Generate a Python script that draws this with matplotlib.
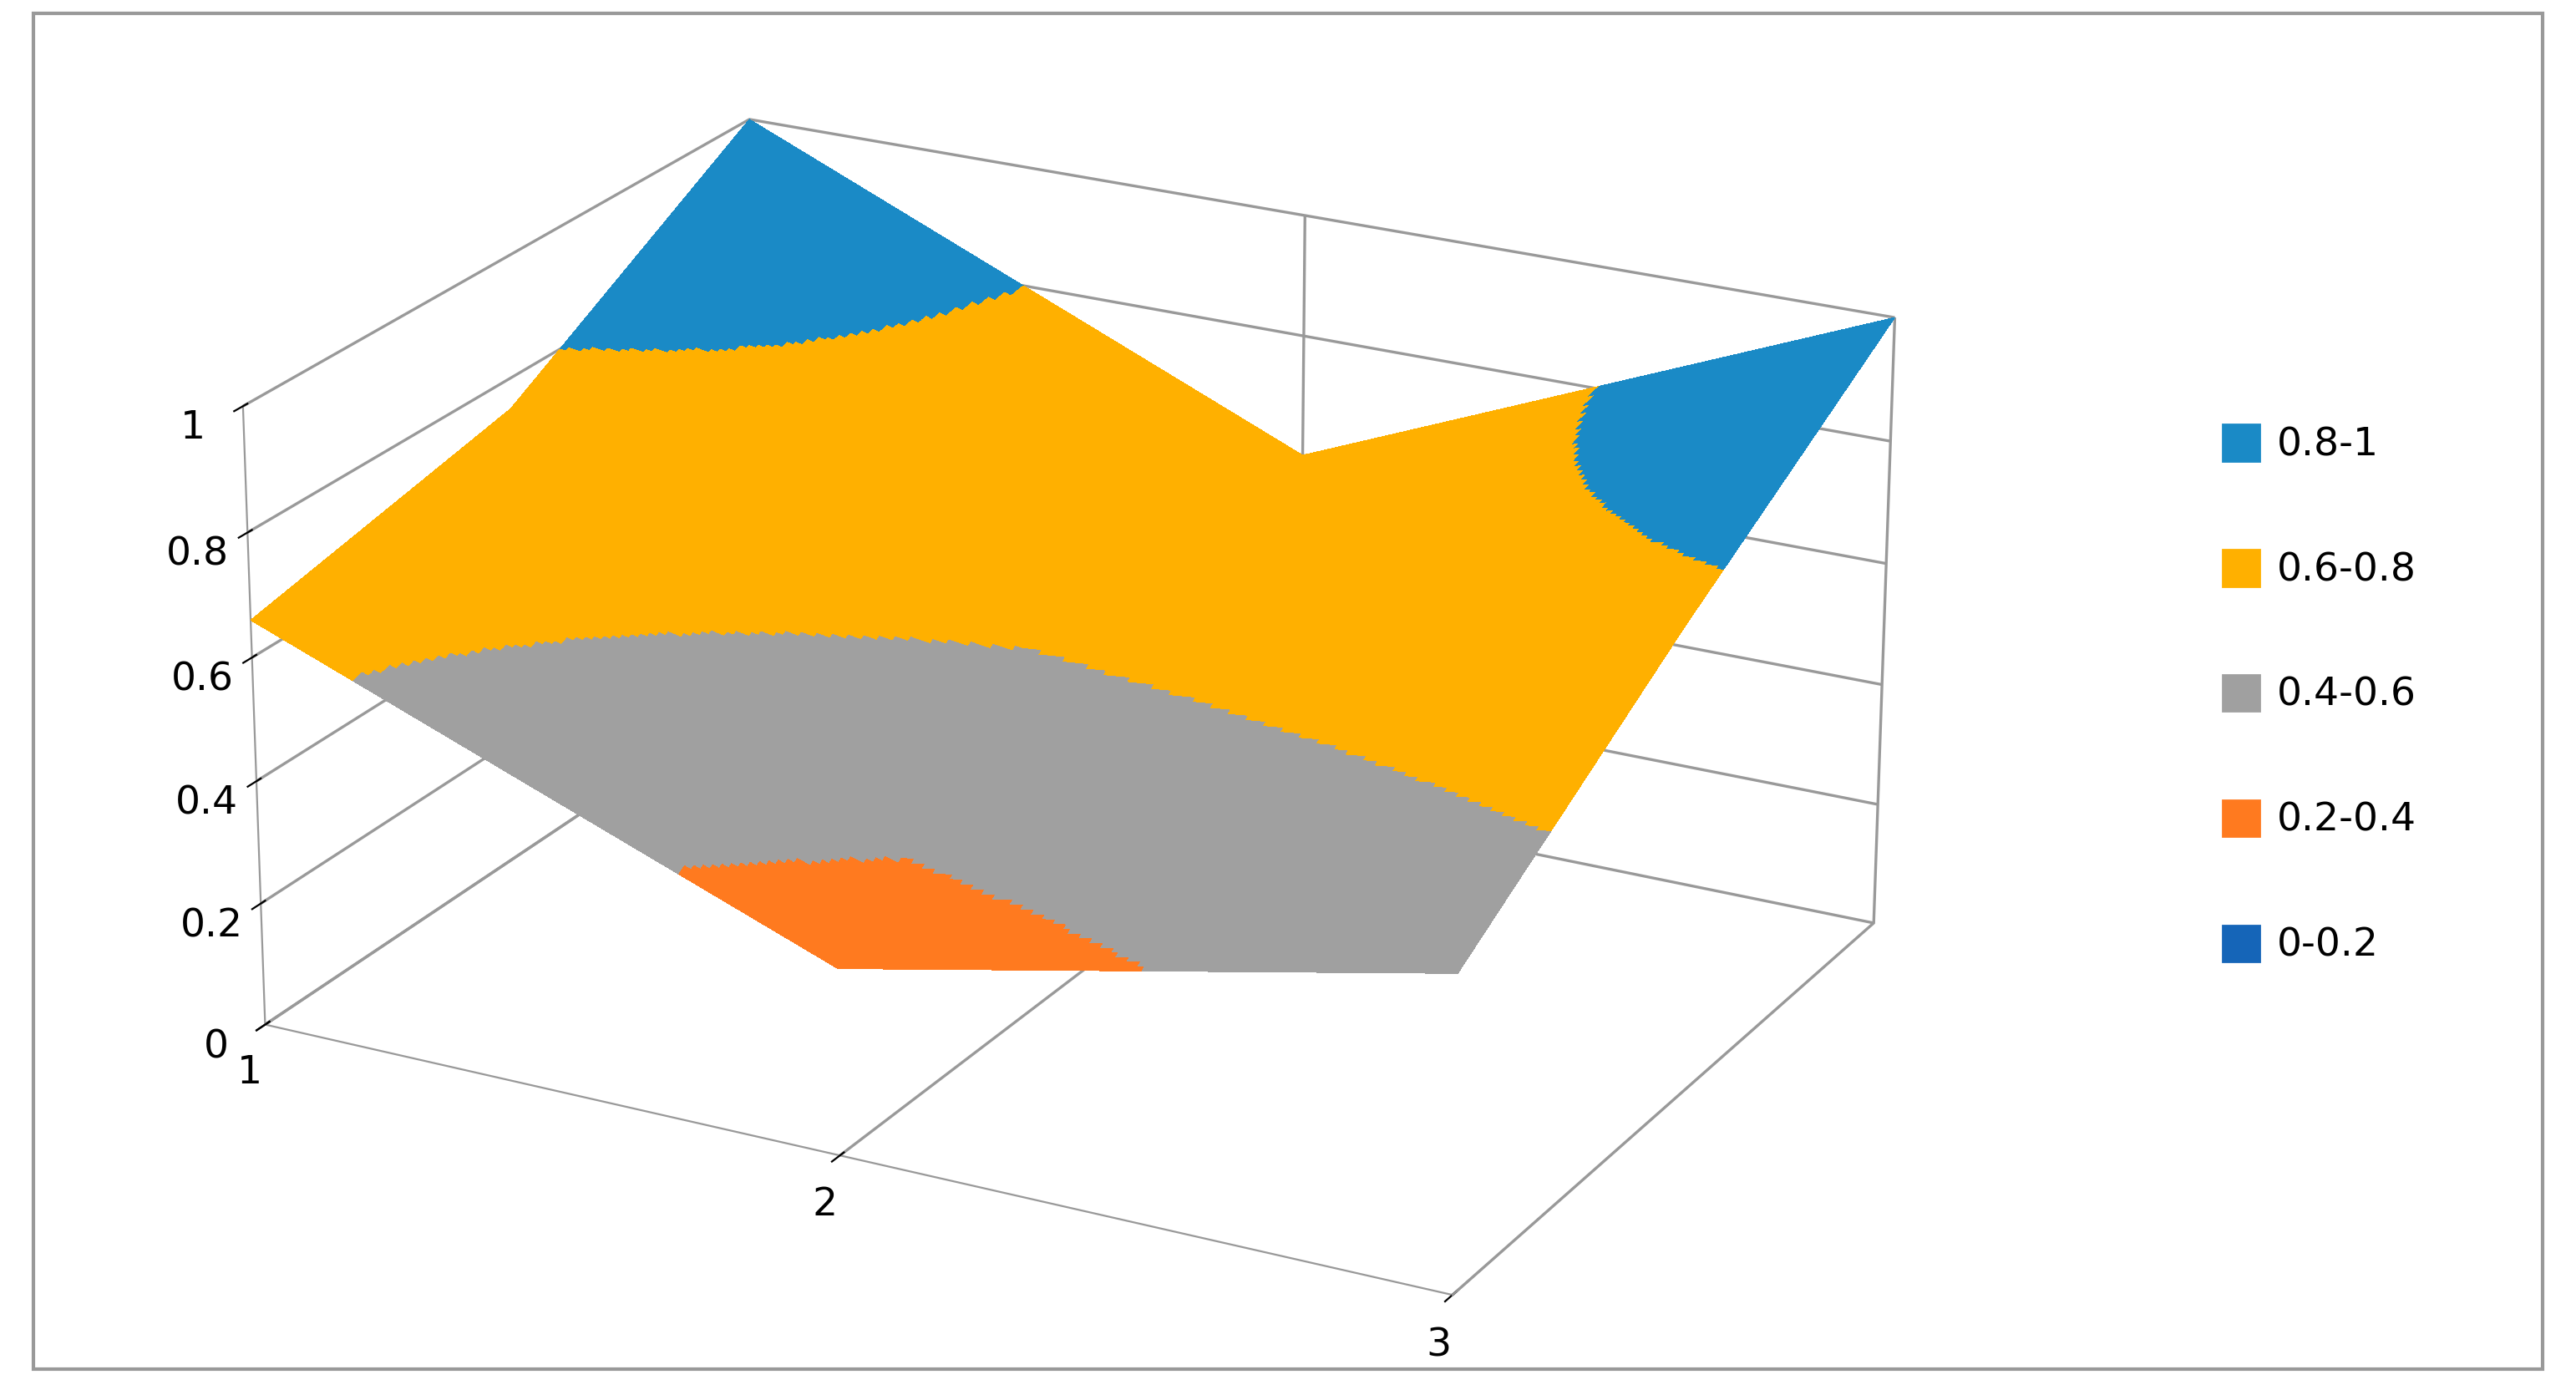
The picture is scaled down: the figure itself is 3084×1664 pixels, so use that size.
import numpy as np
import matplotlib.pyplot as plt
from matplotlib.colors import ListedColormap, BoundaryNorm
from matplotlib.patches import Rectangle

# category axis (1..3) and series rows (front -> back)
categories = [1, 2, 3]
series_rows = [1, 2, 3]
values = np.array([
    [0.66, 0.30, 0.50],   # front row
    [0.75, 0.70, 0.76],   # middle row
    [1.00, 0.60, 1.00],   # back row
])
band_labels = ["0.8-1", "0.6-0.8", "0.4-0.6", "0.2-0.4", "0-0.2"]
band_colors = ["#1a8ac6", "#ffb000", "#a0a0a0", "#ff7a1f", "#1565b8"]
bounds = [0, 0.2, 0.4, 0.6, 0.8, 1.0]

cmap = ListedColormap(band_colors[::-1])
norm = BoundaryNorm(bounds, cmap.N)

# fine mesh for band shading (bilinear between the data cells)
n = 181
u = np.linspace(0, 2, n)
U, V = np.meshgrid(u, u)
i0 = np.clip(np.floor(V).astype(int), 0, 1)
j0 = np.clip(np.floor(U).astype(int), 0, 1)
fv, fu = V - i0, U - j0
Z = (values[i0, j0] * (1 - fv) * (1 - fu) + values[i0, j0 + 1] * (1 - fv) * fu
     + values[i0 + 1, j0] * fv * (1 - fu) + values[i0 + 1, j0 + 1] * fv * fu)
X = 1 + U
Y = 1 + V

fig = plt.figure(figsize=(15.42, 8.325), dpi=200)
ax = fig.add_axes([-0.02, -0.12, 0.86, 1.24], projection='3d')
fc = cmap(norm(Z))
ax.plot_surface(X, Y, Z, facecolors=fc, rstride=1, cstride=1, linewidth=0,
                antialiased=False, shade=False)

ax.set_xlim(1, 3)
ax.set_ylim(1, 3)
ax.set_zlim(0, 1)
ax.set_xticks(categories)
ax.set_xticklabels([str(c) for c in categories], fontsize=17)
ax.set_yticks([])
ax.set_zticks([0, 0.2, 0.4, 0.6, 0.8, 1])
ax.set_zticklabels(["0", "0.2", "0.4", "0.6", "0.8", "1"], fontsize=17)
for a in (ax.xaxis, ax.yaxis, ax.zaxis):
    a.set_pane_color((1, 1, 1, 0))
    a._axinfo["grid"]["color"] = "#999999"
    a._axinfo["grid"]["linewidth"] = 1.2
    a.line.set_color("#999999")
ax.zaxis.set_ticks_position('lower')
ax.zaxis.set_label_position('lower')
ax.view_init(elev=22, azim=-62)
ax.set_box_aspect((1.6, 1.2, 0.8))

# legend
for k, (lab, col) in enumerate(zip(band_labels, band_colors)):
    y = 0.68 - k * 0.09
    fig.patches.append(Rectangle((0.863, y - 0.012), 0.014, 0.026, color=col,
                                 transform=fig.transFigure, figure=fig))
    fig.text(0.884, y, lab, fontsize=17, va='center')

fig.patches.append(Rectangle((0.013, 0.015), 0.974, 0.975, fill=False,
                             ec="#999999", lw=1.5, transform=fig.transFigure, figure=fig))
fig.savefig("out.png", dpi=200)
